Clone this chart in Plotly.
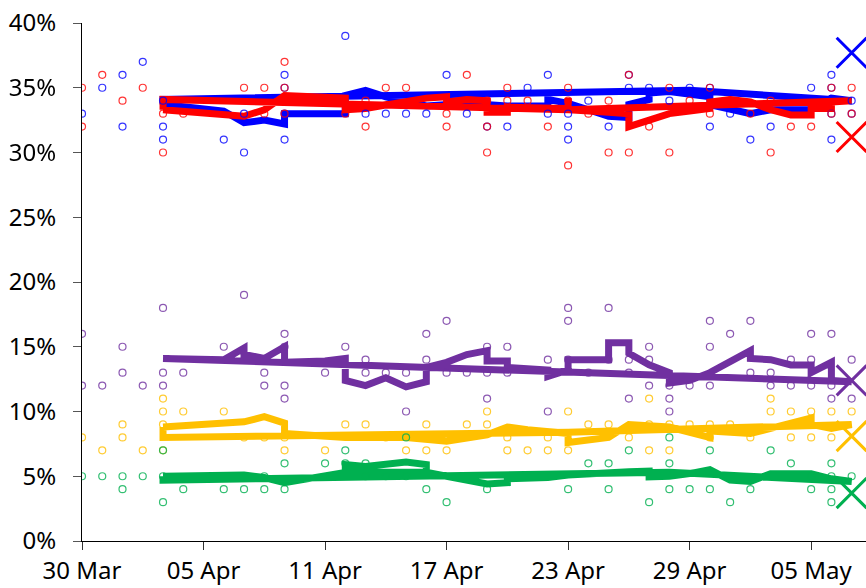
import plotly.graph_objects as go

# ---- party colours ----
parties = ["Con", "Lab", "UKIP", "LD", "Green"]
colors = {"Con": "#0000FF", "Lab": "#FF0000", "UKIP": "#7030A0",
          "LD": "#FFC000", "Green": "#00B050"}

# ---- individual poll results (date, %) ----
con_poll_dates = ["2015-03-30", "2015-03-31", "2015-04-01", "2015-04-01", "2015-04-02",
                  "2015-04-03", "2015-04-03", "2015-04-03", "2015-04-06", "2015-04-07",
                  "2015-04-07", "2015-04-09", "2015-04-09", "2015-04-09", "2015-04-09",
                  "2015-04-12", "2015-04-13", "2015-04-14", "2015-04-15", "2015-04-16",
                  "2015-04-17", "2015-04-18", "2015-04-19", "2015-04-20", "2015-04-21",
                  "2015-04-22", "2015-04-22", "2015-04-23", "2015-04-23", "2015-04-23",
                  "2015-04-24", "2015-04-25", "2015-04-26", "2015-04-26", "2015-04-27",
                  "2015-04-28", "2015-04-29", "2015-04-30", "2015-04-30", "2015-05-01",
                  "2015-05-02", "2015-05-03", "2015-05-05", "2015-05-06", "2015-05-06",
                  "2015-05-06", "2015-05-06", "2015-05-07", "2015-05-07"]
con_poll_values = [33, 35, 36, 32, 37,
                   32, 31, 34, 31, 30,
                   33, 36, 35, 31, 33,
                   39, 33, 33, 33, 33,
                   36, 33, 32, 32, 35,
                   36, 33, 33, 32, 31,
                   34, 32, 36, 35, 35,
                   34, 35, 35, 32, 33,
                   31, 32, 35, 36, 35,
                   33, 31, 34, 33]

lab_poll_dates = ["2015-03-30", "2015-03-30", "2015-03-31", "2015-04-01", "2015-04-02",
                  "2015-04-03", "2015-04-03", "2015-04-04", "2015-04-07", "2015-04-08",
                  "2015-04-08", "2015-04-09", "2015-04-09", "2015-04-09", "2015-04-12",
                  "2015-04-13", "2015-04-13", "2015-04-14", "2015-04-15", "2015-04-17",
                  "2015-04-17", "2015-04-18", "2015-04-19", "2015-04-19", "2015-04-19",
                  "2015-04-20", "2015-04-20", "2015-04-21", "2015-04-22", "2015-04-23",
                  "2015-04-23", "2015-04-23", "2015-04-24", "2015-04-25", "2015-04-25",
                  "2015-04-26", "2015-04-26", "2015-04-27", "2015-04-28", "2015-04-28",
                  "2015-04-29", "2015-04-30", "2015-04-30", "2015-05-01", "2015-05-02",
                  "2015-05-03", "2015-05-03", "2015-05-04", "2015-05-05", "2015-05-06",
                  "2015-05-06", "2015-05-07", "2015-05-07"]
lab_poll_values = [35, 32, 36, 34, 35,
                   33, 30, 33, 35, 35,
                   33, 37, 35, 33, 33,
                   34, 32, 35, 35, 33,
                   32, 36, 34, 32, 30,
                   35, 34, 34, 32, 35,
                   34, 29, 33, 34, 30,
                   36, 30, 32, 35, 30,
                   34, 35, 33, 34, 33,
                   34, 30, 32, 32, 35,
                   33, 35, 33]

ukip_poll_dates = ["2015-03-30", "2015-03-30", "2015-03-31", "2015-04-01", "2015-04-01",
                   "2015-04-02", "2015-04-03", "2015-04-03", "2015-04-03", "2015-04-04",
                   "2015-04-06", "2015-04-07", "2015-04-08", "2015-04-08", "2015-04-09",
                   "2015-04-09", "2015-04-09", "2015-04-09", "2015-04-11", "2015-04-12",
                   "2015-04-13", "2015-04-13", "2015-04-14", "2015-04-15", "2015-04-15",
                   "2015-04-16", "2015-04-16", "2015-04-17", "2015-04-17", "2015-04-18",
                   "2015-04-19", "2015-04-19", "2015-04-19", "2015-04-20", "2015-04-20",
                   "2015-04-22", "2015-04-22", "2015-04-23", "2015-04-23", "2015-04-23",
                   "2015-04-24", "2015-04-25", "2015-04-25", "2015-04-26", "2015-04-26",
                   "2015-04-26", "2015-04-27", "2015-04-27", "2015-04-27", "2015-04-28",
                   "2015-04-28", "2015-04-28", "2015-04-29", "2015-04-30", "2015-04-30",
                   "2015-04-30", "2015-05-01", "2015-05-02", "2015-05-02", "2015-05-03",
                   "2015-05-03", "2015-05-04", "2015-05-04", "2015-05-05", "2015-05-05",
                   "2015-05-05", "2015-05-06", "2015-05-06", "2015-05-06", "2015-05-07",
                   "2015-05-07"]
ukip_poll_values = [16, 12, 12, 15, 13,
                    12, 18, 13, 12, 13,
                    15, 19, 13, 12, 16,
                    15, 12, 11, 13, 15,
                    14, 13, 13, 13, 10,
                    16, 14, 17, 13, 13,
                    15, 13, 11, 15, 13,
                    14, 10, 18, 17, 14,
                    13, 18, 14, 14, 13,
                    11, 15, 14, 12, 12,
                    11, 10, 12, 17, 15,
                    12, 16, 17, 13, 13,
                    12, 14, 12, 16, 14,
                    12, 16, 12, 11, 14,
                    11]

ld_poll_dates = ["2015-03-30", "2015-03-31", "2015-04-01", "2015-04-01", "2015-04-02",
                 "2015-04-03", "2015-04-03", "2015-04-03", "2015-04-03", "2015-04-04",
                 "2015-04-06", "2015-04-07", "2015-04-08", "2015-04-09", "2015-04-09",
                 "2015-04-11", "2015-04-12", "2015-04-13", "2015-04-14", "2015-04-15",
                 "2015-04-16", "2015-04-16", "2015-04-17", "2015-04-18", "2015-04-19",
                 "2015-04-19", "2015-04-20", "2015-04-20", "2015-04-21", "2015-04-22",
                 "2015-04-22", "2015-04-23", "2015-04-23", "2015-04-24", "2015-04-25",
                 "2015-04-26", "2015-04-27", "2015-04-27", "2015-04-27", "2015-04-28",
                 "2015-04-28", "2015-04-29", "2015-04-30", "2015-04-30", "2015-05-01",
                 "2015-05-02", "2015-05-03", "2015-05-03", "2015-05-04", "2015-05-04",
                 "2015-05-05", "2015-05-05", "2015-05-06", "2015-05-06", "2015-05-07"]
ld_poll_values = [8, 7, 9, 8, 7,
                  11, 10, 9, 7, 10,
                  10, 8, 8, 8, 7,
                  7, 9, 9, 8, 7,
                  9, 7, 7, 9, 10,
                  9, 8, 7, 7, 8,
                  7, 10, 7, 9, 9,
                  8, 11, 9, 7, 9,
                  7, 9, 9, 8, 9,
                  8, 11, 10, 10, 8,
                  10, 8, 10, 8, 10]

green_poll_dates = ["2015-03-30", "2015-03-31", "2015-04-01", "2015-04-01", "2015-04-02",
                    "2015-04-03", "2015-04-03", "2015-04-03", "2015-04-04", "2015-04-06",
                    "2015-04-07", "2015-04-08", "2015-04-08", "2015-04-09", "2015-04-09",
                    "2015-04-11", "2015-04-12", "2015-04-12", "2015-04-13", "2015-04-13",
                    "2015-04-14", "2015-04-15", "2015-04-15", "2015-04-16", "2015-04-17",
                    "2015-04-19", "2015-04-23", "2015-04-24", "2015-04-25", "2015-04-25",
                    "2015-04-26", "2015-04-27", "2015-04-28", "2015-04-28", "2015-04-28",
                    "2015-04-29", "2015-04-30", "2015-04-30", "2015-05-01", "2015-05-02",
                    "2015-05-03", "2015-05-04", "2015-05-05", "2015-05-05", "2015-05-06",
                    "2015-05-06", "2015-05-06", "2015-05-06", "2015-05-07"]
green_poll_values = [5, 5, 5, 4, 5,
                     7, 5, 3, 4, 4,
                     4, 5, 4, 6, 4,
                     6, 7, 6, 6, 5,
                     5, 8, 5, 4, 3,
                     4, 4, 6, 6, 4,
                     7, 3, 8, 6, 4,
                     4, 7, 4, 3, 4,
                     7, 6, 5, 4, 6,
                     5, 4, 3, 5]

# ---- running averages (path traced as drawn) ----
con_trend_dates = ["2015-04-03", "2015-04-06", "2015-04-07", "2015-04-08", "2015-04-09",
                   "2015-04-09", "2015-04-12", "2015-04-12", "2015-04-13", "2015-04-14",
                   "2015-04-16", "2015-04-18", "2015-04-20", "2015-04-22", "2015-04-22",
                   "2015-04-23", "2015-04-24", "2015-04-25", "2015-04-26", "2015-04-26",
                   "2015-04-27", "2015-04-27", "2015-04-28", "2015-04-30", "2015-04-30",
                   "2015-05-02", "2015-05-03", "2015-05-05", "2015-05-06", "2015-05-07",
                   "2015-04-29", "2015-04-03", "2015-04-03"]
con_trend_values = [33.7, 33.2, 32.3, 32.5, 32.2,
                    33.0, 33.0, 34.4, 34.8, 34.3,
                    33.6, 33.8, 33.6, 33.6, 34.1,
                    33.8, 33.3, 32.8, 32.7, 33.7,
                    34.1, 34.6, 34.7, 34.3, 33.7,
                    33.0, 33.3, 33.3, 34.2, 34.0,
                    34.8, 34.1, 33.7]

lab_trend_dates = ["2015-04-03", "2015-04-07", "2015-04-08", "2015-04-09", "2015-04-12",
                   "2015-04-12", "2015-04-13", "2015-04-15", "2015-04-16", "2015-04-17",
                   "2015-04-17", "2015-04-18", "2015-04-19", "2015-04-19", "2015-04-20",
                   "2015-04-20", "2015-04-23", "2015-04-23", "2015-04-23", "2015-04-25",
                   "2015-04-26", "2015-04-26", "2015-04-28", "2015-04-29", "2015-04-30",
                   "2015-04-30", "2015-05-01", "2015-05-02", "2015-05-03", "2015-05-04",
                   "2015-05-05", "2015-05-05", "2015-05-06", "2015-05-06", "2015-05-07",
                   "2015-04-23", "2015-04-03", "2015-04-03"]
lab_trend_values = [33.3, 32.8, 33.3, 34.4, 34.2,
                    33.3, 33.4, 34.0, 34.2, 34.3,
                    33.9, 34.1, 34.0, 33.1, 33.1,
                    33.5, 33.4, 34.2, 33.3, 33.1,
                    33.0, 32.0, 33.0, 33.2, 33.4,
                    33.9, 34.1, 33.9, 33.3, 32.9,
                    32.9, 33.4, 33.4, 33.9, 34.0,
                    33.3, 34.1, 33.3]

ukip_trend_dates = ["2015-04-03", "2015-04-06", "2015-04-07", "2015-04-07", "2015-04-08",
                    "2015-04-09", "2015-04-09", "2015-04-11", "2015-04-12", "2015-04-12",
                    "2015-04-13", "2015-04-14", "2015-04-15", "2015-04-16", "2015-04-16",
                    "2015-04-17", "2015-04-18", "2015-04-19", "2015-04-19", "2015-04-20",
                    "2015-04-20", "2015-04-22", "2015-04-22", "2015-04-23", "2015-04-23",
                    "2015-04-25", "2015-04-25", "2015-04-26", "2015-04-26", "2015-04-27",
                    "2015-04-28", "2015-04-28", "2015-04-29", "2015-04-30", "2015-05-02",
                    "2015-05-02", "2015-05-03", "2015-05-04", "2015-05-05", "2015-05-05",
                    "2015-05-06", "2015-05-06", "2015-05-07",
                    "2015-04-23", "2015-04-09", "2015-04-03", "2015-04-03"]
ukip_trend_values = [14.1, 14.0, 14.9, 14.4, 14.1,
                     15.0, 13.8, 13.9, 14.1, 12.4,
                     12.0, 12.6, 11.9, 12.3, 13.4,
                     13.8, 14.4, 14.7, 13.9, 13.9,
                     13.4, 13.2, 12.7, 13.2, 14.0,
                     14.0, 15.3, 15.3, 14.5, 13.6,
                     13.0, 12.2, 12.4, 13.0, 14.7,
                     14.1, 14.0, 13.6, 13.6, 13.0,
                     13.8, 12.4, 12.3,
                     13.0, 13.7, 14.0, 14.1]

ld_trend_dates = ["2015-04-03", "2015-04-07", "2015-04-08", "2015-04-09", "2015-04-09",
                  "2015-04-12", "2015-04-15", "2015-04-17", "2015-04-19", "2015-04-20",
                  "2015-04-21", "2015-04-22", "2015-04-23", "2015-04-23", "2015-04-25",
                  "2015-04-26", "2015-04-28", "2015-04-30", "2015-04-30", "2015-05-02",
                  "2015-05-03", "2015-05-04", "2015-05-05", "2015-05-05", "2015-05-06",
                  "2015-05-07", "2015-04-23", "2015-04-03", "2015-04-03"]
ld_trend_values = [8.8, 9.2, 9.6, 9.1, 8.3,
                   8.0, 8.0, 7.7, 8.2, 8.8,
                   8.6, 8.4, 8.3, 7.6, 8.0,
                   9.0, 8.8, 8.0, 8.5, 8.3,
                   8.7, 9.0, 9.5, 9.0, 8.7,
                   9.0, 8.4, 8.0, 8.8]

green_trend_dates = ["2015-04-03", "2015-04-07", "2015-04-08", "2015-04-09", "2015-04-12",
                     "2015-04-12", "2015-04-13", "2015-04-14", "2015-04-15", "2015-04-16",
                     "2015-04-16", "2015-04-12", "2015-04-16", "2015-04-17", "2015-04-19",
                     "2015-04-20", "2015-04-20", "2015-04-22", "2015-04-23", "2015-04-26",
                     "2015-04-27", "2015-04-27", "2015-04-28", "2015-04-29", "2015-04-30",
                     "2015-05-01", "2015-05-02", "2015-05-03", "2015-05-05", "2015-05-06",
                     "2015-05-07", "2015-04-28", "2015-04-03", "2015-04-03"]
green_trend_values = [5.0, 5.1, 4.9, 4.5, 5.3,
                      5.9, 5.75, 5.9, 6.1, 5.9,
                      5.3, 5.3, 5.3, 5.0, 4.4,
                      4.5, 4.8, 4.9, 5.1, 5.35,
                      5.4, 4.95, 5.0, 5.2, 5.5,
                      4.7, 4.6, 5.2, 5.2, 4.8,
                      4.6, 5.3, 4.7, 5.0]

# ---- election result, 7 May ----
result_date = "2015-05-07"
result_values = {"Con": 37.7, "Lab": 31.2, "UKIP": 12.4, "LD": 8.1, "Green": 3.7}

polls = {
    "Con": (con_poll_dates, con_poll_values),
    "Lab": (lab_poll_dates, lab_poll_values),
    "UKIP": (ukip_poll_dates, ukip_poll_values),
    "LD": (ld_poll_dates, ld_poll_values),
    "Green": (green_poll_dates, green_poll_values),
}
trends = {
    "Con": (con_trend_dates, con_trend_values),
    "Lab": (lab_trend_dates, lab_trend_values),
    "UKIP": (ukip_trend_dates, ukip_trend_values),
    "LD": (ld_trend_dates, ld_trend_values),
    "Green": (green_trend_dates, green_trend_values),
}

fig = go.Figure()

# trend lines underneath
for p in ["Green", "LD", "UKIP", "Con", "Lab"]:
    d, v = trends[p]
    fig.add_trace(go.Scatter(x=d, y=v, mode="lines",
                             line=dict(color=colors[p], width=7),
                             hoverinfo="skip", showlegend=False))

# individual polls as open circles
for p in parties:
    d, v = polls[p]
    fig.add_trace(go.Scatter(x=d, y=v, mode="markers",
                             marker=dict(symbol="circle-open", size=7,
                                         color=colors[p], line=dict(width=1.2)),
                             opacity=0.8, showlegend=False))

# results as large crosses
for p in parties:
    fig.add_trace(go.Scatter(x=[result_date], y=[result_values[p]], mode="markers",
                             marker=dict(symbol="x-thin-open", size=30,
                                         color=colors[p],
                                         line=dict(width=3, color=colors[p])),
                             cliponaxis=False, showlegend=False))

font_family = "Noto Sans"
fig.update_layout(
    width=866, height=588,
    margin=dict(l=82, r=0, t=23, b=47),
    plot_bgcolor="white", paper_bgcolor="white",
    font=dict(family=font_family, size=24, color="black"),
    xaxis=dict(
        type="date",
        range=["2015-03-30", "2015-05-07 17:00"],
        tick0="2015-03-30", dtick=6 * 86400000,
        tickformat="%d %b",
        ticks="outside", ticklen=8, tickcolor="#333",
        showline=True, linecolor="black", linewidth=1,
        showgrid=False, zeroline=False,
        tickfont=dict(size=24),
    ),
    yaxis=dict(
        range=[0, 40], dtick=5, ticksuffix="%",
        ticks="outside", ticklen=8, tickcolor="#555",
        showline=True, linecolor="black", linewidth=1,
        showgrid=False, zeroline=False,
        ticklabelstandoff=12,
        tickfont=dict(size=24),
    ),
)

fig.write_html("out.html")
